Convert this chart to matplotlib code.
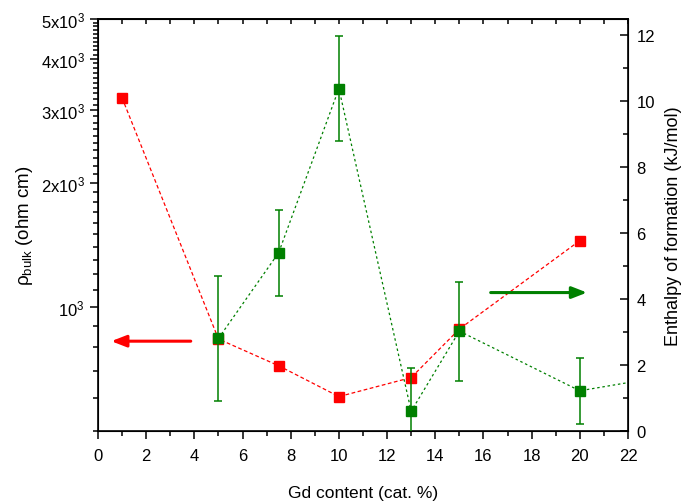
import matplotlib
matplotlib.use("Agg")
import matplotlib.pyplot as plt
from matplotlib.ticker import FixedLocator, MultipleLocator, NullFormatter
import numpy as np

plt.rcParams['font.family'] = ['Liberation Sans', 'DejaVu Sans']
plt.rcParams['mathtext.fontset'] = 'custom'
plt.rcParams['mathtext.rm'] = 'Liberation Sans'
plt.rcParams['mathtext.it'] = 'Liberation Sans:italic'
plt.rcParams['mathtext.bf'] = 'Liberation Sans:bold'

# Data
gd_rho = [1, 5, 7.5, 10, 13, 15, 20]
rho_bulk = [3216, 836, 720, 606, 674, 884, 1449]

gd_h = [5, 7.5, 10, 13, 15, 20, 25]
enthalpy = [2.81, 5.41, 10.39, 0.60, 3.03, 1.22, 1.84]
enthalpy_err = [1.9, 1.3, 1.6, 1.3, 1.5, 1.0, 0.0]

left_ticks = [1000, 2000, 3000, 4000, 5000]
left_ticklabels = [r'10$^{3}$', r'2x10$^{3}$', r'3x10$^{3}$', r'4x10$^{3}$', r'5x10$^{3}$']

fig = plt.figure(figsize=(6.84, 5.02), dpi=100)
ax = fig.add_axes([98/684, (502-432)/502, (628-98)/684, (432-20)/502])
ax2 = ax.twinx()

red = '#ff0000'
green = '#008000'

ax.plot(gd_rho, rho_bulk, color=red, linestyle=(0, (3, 2)), linewidth=0.9,
        marker='s', markersize=7, markerfacecolor=red, markeredgecolor=red, zorder=3)
ax.set_yscale('log')
ax.set_ylim(500, 5000)
ax.set_xlim(0, 22)
ax.yaxis.set_major_locator(FixedLocator(left_ticks))
ax.yaxis.set_major_formatter(matplotlib.ticker.FixedFormatter(left_ticklabels))
ax.yaxis.set_minor_locator(FixedLocator(np.arange(500, 5001, 100)))
ax.yaxis.set_minor_formatter(NullFormatter())

ax.xaxis.set_major_locator(MultipleLocator(2))
ax.xaxis.set_minor_locator(MultipleLocator(1))

ax2.errorbar(gd_h, enthalpy, yerr=enthalpy_err, color=green, linestyle=(0, (2, 2.2)),
             linewidth=0.9, marker='s', markersize=7, markerfacecolor=green,
             markeredgecolor=green, ecolor=green, elinewidth=1.1, capsize=3, capthick=1.1,
             zorder=3)
ax2.set_ylim(0, 12.5)
ax2.yaxis.set_major_locator(MultipleLocator(2))
ax2.yaxis.set_minor_locator(MultipleLocator(1))

# arrows
ax.annotate('', xy=(0.55, 826), xytext=(3.85, 826),
            arrowprops=dict(arrowstyle='-|>,head_length=0.9,head_width=0.35',
                            color=red, lw=2.2, shrinkA=0, shrinkB=0))
ax2.annotate('', xy=(20.3, 4.2), xytext=(16.3, 4.2),
             arrowprops=dict(arrowstyle='-|>,head_length=0.9,head_width=0.35',
                             color=green, lw=2.2, shrinkA=0, shrinkB=0))

for s in ax.spines.values():
    s.set_linewidth(1.2)
ax.tick_params(axis='x', which='major', direction='out', length=6, width=1.1,
               labelsize=12, pad=6, top=False)
ax.tick_params(axis='x', which='minor', direction='out', length=3.5, width=1.1, top=False)
ax.tick_params(axis='y', which='major', direction='out', length=6, width=1.1, labelsize=12)
ax.tick_params(axis='y', which='minor', direction='out', length=3.5, width=1.1)
ax2.tick_params(axis='y', which='major', direction='in', length=6, width=1.1,
                labelsize=12, pad=6)
ax2.tick_params(axis='y', which='minor', direction='in', length=3.5, width=1.1)

# top ticks (inward)
axt = ax.secondary_xaxis('top')
axt.xaxis.set_major_locator(MultipleLocator(1))
axt.tick_params(axis='x', which='major', direction='in', length=3.5, width=1.1, labeltop=False)
axt.xaxis.set_minor_locator(matplotlib.ticker.NullLocator())
axt.spines['top'].set_linewidth(1.2)

ax.set_xlabel('Gd content (cat. %)', fontsize=12.5, labelpad=16)
ax.set_ylabel(r'ρ$_{\mathrm{bulk}}$ (ohm cm)', fontsize=13.5, labelpad=4)
ax2.set_ylabel('Enthalpy of formation (kJ/mol)', fontsize=13, labelpad=7)

fig.savefig('out.png', dpi=100)
